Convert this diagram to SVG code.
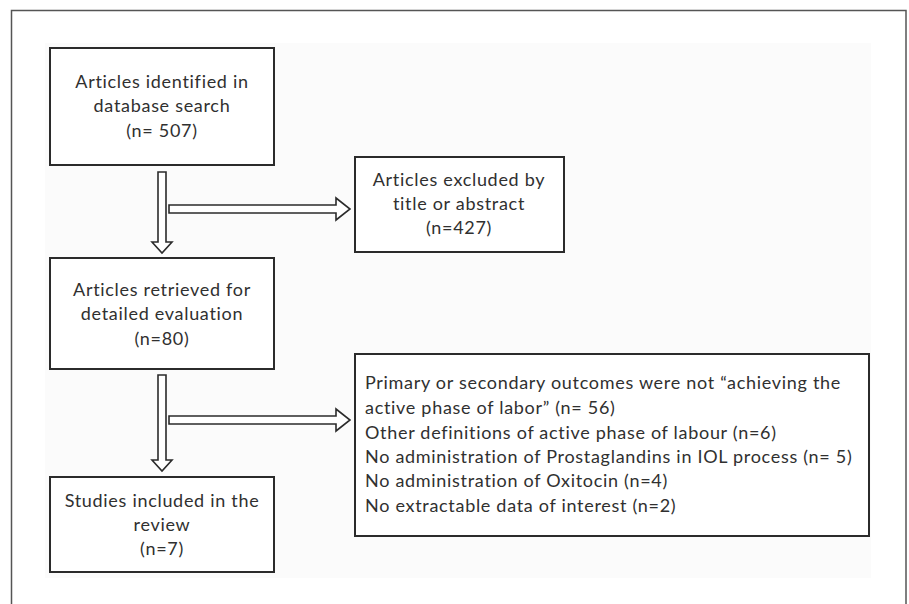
<svg xmlns="http://www.w3.org/2000/svg" width="909" height="604" viewBox="0 0 909 604">
<style>
.box{fill:#ffffff;stroke:#2b2b2b;stroke-width:2}
.arr{fill:#ffffff;stroke:#2b2b2b;stroke-width:1.6;stroke-linejoin:miter}
text{font-family:Lato,"Liberation Sans",sans-serif;font-size:18px;fill:#303030;letter-spacing:0.7px}
.c{text-anchor:middle}
</style>
<rect x="0" y="0" width="909" height="604" fill="#ffffff"/>
<path d="M11.5 604 V10.5 H906 V604" fill="none" stroke="#555555" stroke-width="1.5"/>
<rect x="45" y="43" width="826" height="535" fill="#fbfbfb"/>
<g id="n1">
<rect class="box" x="50" y="48" width="224" height="117"/>
<text class="c" x="162" y="88">Articles identified in</text>
<text class="c" x="162" y="112">database search</text>
<text class="c" x="162" y="137">(n= 507)</text>
</g>
<g id="n2">
<rect class="box" x="355" y="157" width="209" height="95"/>
<text class="c" x="459" y="186">Articles excluded by</text>
<text class="c" x="459" y="210">title or abstract</text>
<text class="c" x="459" y="234">(n=427)</text>
</g>
<g id="n3">
<rect class="box" x="50" y="258" width="224" height="111"/>
<text class="c" x="162" y="296">Articles retrieved for</text>
<text class="c" x="162" y="320">detailed evaluation</text>
<text class="c" x="162" y="345">(n=80)</text>
</g>
<g id="n4">
<rect class="box" x="50" y="477" width="224" height="95"/>
<text class="c" x="162" y="507">Studies included in the</text>
<text class="c" x="162" y="531">review</text>
<text class="c" x="162" y="555">(n=7)</text>
</g>
<g id="n5">
<rect class="box" x="355" y="354" width="514" height="182"/>
<text x="365" y="389">Primary or secondary outcomes were not “achieving the</text>
<text x="365" y="414">active phase of labor” (n= 56)</text>
<text x="365" y="439">Other definitions of active phase of labour (n=6)</text>
<text x="365" y="463">No administration of Prostaglandins in IOL process (n= 5)</text>
<text x="365" y="487">No administration of Oxitocin (n=4)</text>
<text x="365" y="512">No extractable data of interest (n=2)</text>
</g>
<g id="connectors">
<path class="arr" d="M158 172 H166 V242 H172 L162 253 L152 242 H158 Z"/>
<path class="arr" d="M169 205 H336 V198 L350 209 L336 220 V213 H169 Z"/>
<path class="arr" d="M158 375 H166 V460 H172 L162 471 L152 460 H158 Z"/>
<path class="arr" d="M169 416 H336 V409 L350 420 L336 431 V424 H169 Z"/>
</g>
</svg>
